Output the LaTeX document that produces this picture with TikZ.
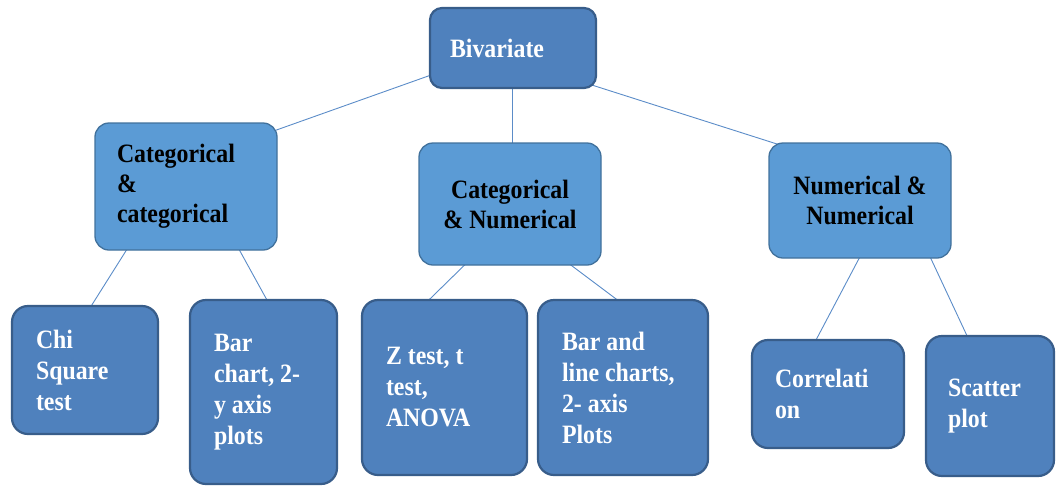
\documentclass[tikz,border=0pt]{standalone}
\usepackage{fontspec}
\setmainfont{Liberation Serif}[FakeStretch=0.9]
\usetikzlibrary{calc}
\pgfdeclarelayer{background}
\pgfsetlayers{background,main}
\definecolor{leaffill}{HTML}{4F81BD}
\definecolor{leafdraw}{HTML}{385D8A}
\definecolor{midfill}{HTML}{5B9BD5}
\definecolor{middraw}{HTML}{41719C}
\definecolor{linecol}{HTML}{5B8CC8}
\tikzset{
  box/.style={rounded corners=16pt, font=\fontsize{26.5}{31}\selectfont\bfseries, inner ysep=0pt},
  leafbox/.style={box, fill=leaffill, draw=leafdraw, line width=2.2pt, text=white, align=flush left},
  midbox/.style={box, fill=midfill, draw=middraw, line width=1.3pt, text=black, rounded corners=14pt, font=\fontsize{26.5}{30}\selectfont\bfseries},
  conn/.style={draw=linecol, line width=0.9pt},
}
\begin{document}
\begin{tikzpicture}[x=1pt,y=-1pt]
\useasboundingbox (0,0) rectangle (1057,485);
% top
\node[leafbox, rounded corners=12pt, inner xsep=20pt, text width=126pt, minimum height=80pt] (biv) at (513,48) {Bivariate};
% middle
\node[midbox, align=flush left, inner xsep=22pt, text width=138pt, minimum height=127pt] (cc) at (186,186.5) {Categorical\\\&\\categorical};
\node[midbox, align=flush center, inner xsep=10pt, text width=162pt, minimum height=122pt] (cn) at (510,204) {Categorical\\\& Numerical};
\node[midbox, align=flush center, inner xsep=10pt, text width=162pt, minimum height=115pt] (nn) at (860,200.5) {Numerical \&\\Numerical};
% leaves
\node[leafbox, inner xsep=24pt, text width=98pt, minimum height=128pt] (chi) at (85,370) {Chi\\Square\\test};
\node[leafbox, inner xsep=24pt, text width=99pt, minimum height=184pt] (bar) at (263.5,392) {Bar\\chart, 2-\\y axis\\plots};
\node[leafbox, inner xsep=24pt, text width=117pt, minimum height=175pt] (zt) at (444.5,387.5) {Z test, t\\test,\\ANOVA};
\node[leafbox, inner xsep=24pt, text width=122pt, minimum height=175pt] (bl) at (623,387.5) {Bar and\\line charts,\\2- axis\\Plots};
\node[leafbox, inner xsep=23pt, text width=106pt, minimum height=108pt] (cor) at (828,394) {Correlati\\on};
\node[leafbox, inner xsep=22pt, text width=84pt, minimum height=140pt] (sc) at (990,406) {Scatter\\plot};
% connectors
\begin{pgfonlayer}{background}
\draw[conn] ($(biv.west)+(5,26)$) -- ($(cc.north east)+(-5,9)$);
\draw[conn] ($(biv.south)+(-1,-5)$) -- ($(cn.north)+(2,5)$);
\draw[conn] ($(biv.south east)+(-5,-4)$) -- ($(nn.north west)+(16,4)$);
\draw[conn] ($(cc.south west)+(33,-2)$) -- ($(chi.north)+(5,3)$);
\draw[conn] ($(cc.south east)+(-39,-2)$) -- ($(bar.north)+(4.5,3)$);
\draw[conn] ($(cn.south)+(-44,-2)$) -- ($(zt.north west)+(66,3)$);
\draw[conn] ($(cn.south)+(59,-2)$) -- ($(bl.north)+(-3,3)$);
\draw[conn] ($(nn.south)+(0,-2)$) -- ($(cor.north)+(-13,3)$);
\draw[conn] ($(nn.south)+(70,-2)$) -- ($(sc.north)+(-22,3)$);
\end{pgfonlayer}
\end{tikzpicture}
\end{document}
